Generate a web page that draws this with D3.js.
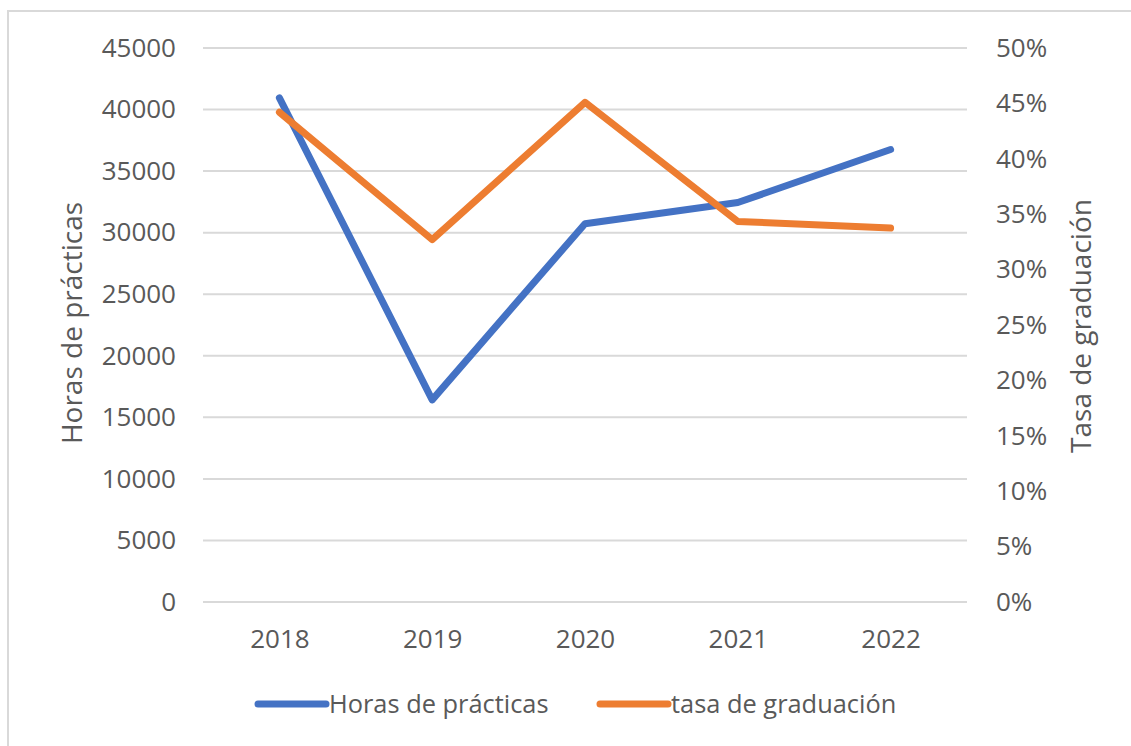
<!DOCTYPE html>
<html>
<head>
<meta charset="utf-8">
<script src="https://cdn.jsdelivr.net/npm/d3@7"></script>
<style>
  body { margin: 0; background: #fff; }
  text { font-family: "Open Sans", sans-serif; fill: #595959; }
</style>
</head>
<body>
<div id="chart"></div>
<script>
const years = ['2018', '2019', '2020', '2021', '2022'];
const horas = [40950, 16420, 30730, 32450, 36750];
const tasa = [0.442, 0.327, 0.451, 0.3435, 0.3375];
const leftTicks = [0, 5000, 10000, 15000, 20000, 25000, 30000, 35000, 40000, 45000];
const rightTicks = [0, 0.05, 0.10, 0.15, 0.20, 0.25, 0.30, 0.35, 0.40, 0.45, 0.50];

const width = 1131;
const height = 746;
const blue = '#4472c4';
const orange = '#ed7d31';

const svg = d3.select('#chart')
              .append('svg')
              .attr('width', width)
              .attr('height', height);

// chart frame
svg.append('rect')
   .attr('x', 8)
   .attr('y', 11)
   .attr('width', 1300)
   .attr('height', 900)
   .attr('fill', 'none')
   .attr('stroke', '#d9d9d9')
   .attr('stroke-width', 2);

const x = d3.scalePoint()
            .domain(years)
            .range([203, 967])
            .padding(0.5);

const yLeft = d3.scaleLinear()
                .domain([0, 45000])
                .range([602, 48]);

const yRight = d3.scaleLinear()
                 .domain([0, 0.5])
                 .range([602, 48]);

// gridlines
svg.append('g')
   .selectAll('line')
   .data(leftTicks)
   .enter()
   .append('line')
   .attr('x1', 203)
   .attr('x2', 967)
   .attr('y1', (d) => yLeft(d))
   .attr('y2', (d) => yLeft(d))
   .attr('stroke', '#d9d9d9')
   .attr('stroke-width', 2);

const leftAxis = svg.append('g')
                    .attr('transform', 'translate(176, 0)')
                    .call(d3.axisLeft(yLeft).tickValues(leftTicks).tickSize(0).tickPadding(0).tickFormat(d3.format('d')));

const rightAxis = svg.append('g')
                     .attr('transform', 'translate(996, 0)')
                     .call(d3.axisRight(yRight).tickValues(rightTicks).tickSize(0).tickPadding(0).tickFormat(d3.format('.0%')));

const bottomAxis = svg.append('g')
                      .attr('transform', 'translate(0, 630)')
                      .call(d3.axisBottom(x).tickSize(0).tickPadding(0));

[leftAxis, rightAxis, bottomAxis].forEach((a) => {
  a.select('.domain').remove();
  a.selectAll('text')
   .style('font-size', '26px')
   .style('font-family', '"Open Sans", sans-serif')
   .attr('fill', '#595959');
});

// axis titles
svg.append('text')
   .attr('transform', 'translate(82, 323) rotate(-90)')
   .attr('text-anchor', 'middle')
   .style('font-size', '28px')
   .text('Horas de prácticas');

svg.append('text')
   .attr('transform', 'translate(1091, 326) rotate(-90)')
   .attr('text-anchor', 'middle')
   .style('font-size', '28px')
   .text('Tasa de graduación');

// lines
const lineLeft = d3.line()
                   .x((d, i) => x(years[i]))
                   .y((d) => yLeft(d));

const lineRight = d3.line()
                    .x((d, i) => x(years[i]))
                    .y((d) => yRight(d));

svg.append('path')
   .datum(horas)
   .attr('d', lineLeft)
   .attr('fill', 'none')
   .attr('stroke', blue)
   .attr('stroke-width', 7)
   .attr('stroke-linecap', 'round')
   .attr('stroke-linejoin', 'round');

svg.append('path')
   .datum(tasa)
   .attr('d', lineRight)
   .attr('fill', 'none')
   .attr('stroke', orange)
   .attr('stroke-width', 7)
   .attr('stroke-linecap', 'round')
   .attr('stroke-linejoin', 'round');

// legend
const legendData = [
  { name: 'Horas de prácticas', color: blue, x: 258 },
  { name: 'tasa de graduación', color: orange, x: 600 }
];

const legendItem = svg.selectAll('.legend')
                      .data(legendData)
                      .enter()
                      .append('g')
                      .attr('class', 'legend')
                      .attr('transform', (d) => 'translate(' + d.x + ', 704)');

legendItem.append('line')
          .attr('x1', 0)
          .attr('x2', 68)
          .attr('stroke', (d) => d.color)
          .attr('stroke-width', 7)
          .attr('stroke-linecap', 'round');

legendItem.append('text')
          .attr('x', 71)
          .attr('dy', '0.35em')
          .style('font-size', '25.4px')
          .text((d) => d.name);
</script>
</body>
</html>
